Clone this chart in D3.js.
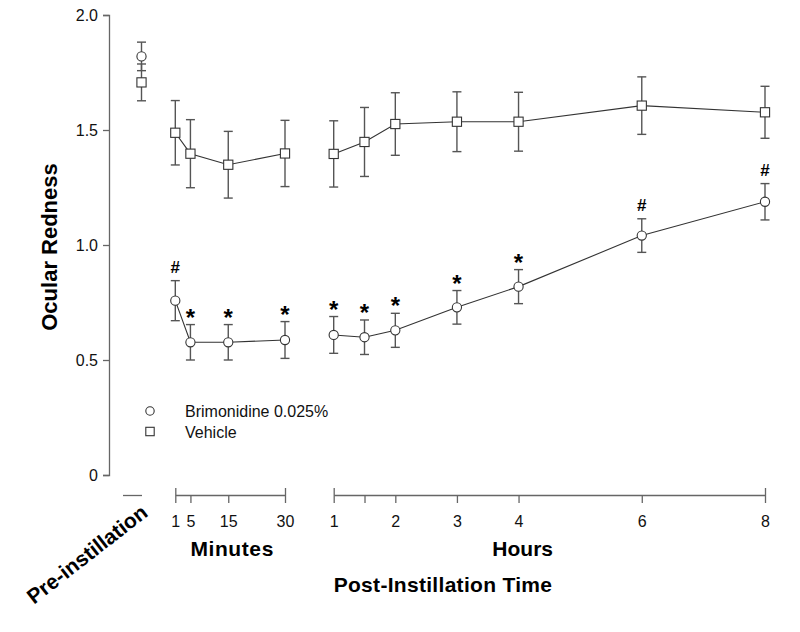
<!DOCTYPE html>
<html>
<head>
<meta charset="utf-8">
<script src="https://cdn.jsdelivr.net/npm/d3@7"></script>
<style>
  html, body { margin: 0; padding: 0; background: #fff; }
  svg { display: block; font-family: "Liberation Sans", Arial, sans-serif; }
</style>
</head>
<body>
<svg id="chart" width="800" height="632"></svg>
<script>
// ---------------- DATA ----------------
const seriesNames = ["Brimonidine 0.025%", "Vehicle"];

// Pre-instillation (baseline)
const preBrimMean = 1.82, preBrimErr = 0.062;
const preVehMean = 1.707, preVehErr = 0.08;

// Minutes post-instillation
const minuteTimes = [1, 5, 15, 30];
const minuteLabels = ["1", "5", "15", "30"];
const brimMinMean = [0.758, 0.577, 0.577, 0.587];
const brimMinErr  = [0.087, 0.077, 0.077, 0.080];
const vehMinMean  = [1.488, 1.397, 1.349, 1.398];
const vehMinErr   = [0.140, 0.148, 0.145, 0.144];
const brimMinSig  = ["#", "*", "*", "*"];

// Hours post-instillation
const hourTimes  = [1, 1.5, 2, 3, 4, 6, 8];
const hourLabels = ["1", "", "2", "3", "4", "6", "8"];
const brimHrMean = [0.609, 0.599, 0.629, 0.729, 0.819, 1.041, 1.188];
const brimHrErr  = [0.080, 0.075, 0.074, 0.073, 0.074, 0.073, 0.079];
const vehHrMean  = [1.396, 1.448, 1.526, 1.536, 1.536, 1.606, 1.577];
const vehHrErr   = [0.144, 0.150, 0.136, 0.130, 0.128, 0.125, 0.113];
const brimHrSig  = ["*", "*", "*", "*", "*", "#", "#"];

const yTicks = [0, 0.5, 1.0, 1.5, 2.0];
const yTickLabels = ["0", "0.5", "1.0", "1.5", "2.0"];

// ---------------- SCALES ----------------
const svg = d3.select("#chart");
const axisColor = "#666";
const markColor = "#333";
const errColor = "#555";

const y = d3.scaleLinear().domain([0, 2]).range([475, 15]);
const xPre = d3.scaleLinear().domain([-1, 0]).range([122.5, 141.5]);
const xMin = d3.scaleLinear().domain([1, 30]).range([175.3, 285]);
const xHr  = d3.scaleLinear().domain([1, 8]).range([333.7, 765]);
const axisY = 495;

// ---------------- AXES ----------------
const yAxis = d3.axisLeft(y)
  .tickValues(yTicks)
  .tickFormat((d, i) => yTickLabels[i])
  .tickSize(6).tickPadding(5);
const gy = svg.append("g").attr("transform", "translate(109,0)").call(yAxis);

function styleAxis(g) {
  g.selectAll("path.domain").attr("stroke", axisColor).attr("stroke-width", 1.3);
  g.selectAll(".tick line").attr("stroke", axisColor).attr("stroke-width", 1.3);
  g.selectAll(".tick text").attr("fill", "#111").style("font-size", "16px")
    .style("font-family", '"Liberation Sans", Arial, sans-serif');
}
styleAxis(gy);

// pre-instillation segment (no ticks)
const gPre = svg.append("g").attr("transform", `translate(0,${axisY})`)
  .call(d3.axisBottom(xPre).tickValues([]).tickSizeOuter(0));
styleAxis(gPre);

function timeAxis(scale, vals, labels) {
  const g = svg.append("g").attr("transform", `translate(0,${axisY})`)
    .call(d3.axisBottom(scale).tickValues(vals)
      .tickFormat((d, i) => labels[i])
      .tickSize(8).tickSizeOuter(0).tickPadding(12.5));
  styleAxis(g);
  // end caps extending upward
  g.selectAll("line.cap").data(scale.range()).enter().append("line")
    .attr("class", "cap")
    .attr("x1", d => d + 0.5).attr("x2", d => d + 0.5)
    .attr("y1", -7).attr("y2", 0)
    .attr("stroke", axisColor).attr("stroke-width", 1.3);
  return g;
}
timeAxis(xMin, minuteTimes, minuteLabels);
timeAxis(xHr, hourTimes, hourLabels);

// ---------------- AXIS TITLES ----------------
svg.append("text")
  .attr("transform", "translate(57,247) rotate(-90)")
  .attr("text-anchor", "middle")
  .style("font-weight", "bold").style("font-size", "22px")
  .text("Ocular Redness");

svg.append("text")
  .attr("x", d3.mean(xMin.range()) + 2).attr("y", 556)
  .attr("text-anchor", "middle")
  .style("font-weight", "bold").style("font-size", "21px")
  .style("letter-spacing", "0.6px")
  .text("Minutes");

svg.append("text")
  .attr("x", 522.7).attr("y", 556)
  .attr("text-anchor", "middle")
  .style("font-weight", "bold").style("font-size", "21px")
  .text("Hours");

svg.append("text")
  .attr("x", xHr.range()[0]).attr("y", 592)
  .attr("text-anchor", "start")
  .style("font-weight", "bold").style("font-size", "21px")
  .style("letter-spacing", "0.3px")
  .text("Post-Instillation Time");

svg.append("text")
  .attr("transform", "translate(149,515) rotate(-38)")
  .attr("text-anchor", "end")
  .style("font-weight", "bold").style("font-size", "21px")
  .text("Pre-instillation");

// ---------------- DATA MARKS ----------------
function buildGroup(scale, times, means, errs) {
  return times.map((t, i) => ({ x: scale(t), m: means[i], e: errs[i] }));
}
const groups = {
  brimPre: buildGroup(xPre, [0], [preBrimMean], [preBrimErr]),
  vehPre:  buildGroup(xPre, [0], [preVehMean], [preVehErr]),
  brimMin: buildGroup(xMin, minuteTimes, brimMinMean, brimMinErr),
  vehMin:  buildGroup(xMin, minuteTimes, vehMinMean, vehMinErr),
  brimHr:  buildGroup(xHr, hourTimes, brimHrMean, brimHrErr),
  vehHr:   buildGroup(xHr, hourTimes, vehHrMean, vehHrErr)
};

const line = d3.line().x(d => d.x).y(d => y(d.m));
const plot = svg.append("g");

// connecting lines
["brimMin", "vehMin", "brimHr", "vehHr"].forEach(k => {
  plot.append("path").datum(groups[k]).attr("d", line)
    .attr("fill", "none").attr("stroke", markColor).attr("stroke-width", 1.1);
});

// error bars
const cap = 4.5;
Object.values(groups).forEach(arr => {
  const g = plot.append("g").attr("stroke", errColor).attr("stroke-width", 1.4);
  arr.forEach(d => {
    g.append("line").attr("x1", d.x).attr("x2", d.x).attr("y1", y(d.m + d.e)).attr("y2", y(d.m - d.e));
    g.append("line").attr("x1", d.x - cap).attr("x2", d.x + cap).attr("y1", y(d.m + d.e)).attr("y2", y(d.m + d.e));
    g.append("line").attr("x1", d.x - cap).attr("x2", d.x + cap).attr("y1", y(d.m - d.e)).attr("y2", y(d.m - d.e));
  });
});

// markers
["vehPre", "vehMin", "vehHr"].forEach(k => {
  plot.selectAll(null).data(groups[k]).enter().append("rect")
    .attr("x", d => d.x - 4.6).attr("y", d => y(d.m) - 4.6)
    .attr("width", 9.2).attr("height", 9.2)
    .attr("fill", "#fff").attr("stroke", markColor).attr("stroke-width", 1.1);
});
["brimPre", "brimMin", "brimHr"].forEach(k => {
  plot.selectAll(null).data(groups[k]).enter().append("circle")
    .attr("cx", d => d.x).attr("cy", d => y(d.m)).attr("r", 4.6)
    .attr("fill", "#fff").attr("stroke", markColor).attr("stroke-width", 1.1);
});

// significance markers
function sigMarks(arr, sig) {
  arr.forEach((d, i) => {
    const top = y(d.m + d.e);
    const s = sig[i];
    if (s === "*") {
      plot.append("text").attr("x", d.x).attr("y", top + 1)
        .attr("text-anchor", "middle")
        .style("font-weight", "bold").style("font-size", "24px")
        .text("*");
    } else {
      plot.append("text").attr("x", d.x).attr("y", top - 8)
        .attr("text-anchor", "middle")
        .style("font-weight", "bold").style("font-size", "17px")
        .text("#");
    }
  });
}
sigMarks(groups.brimMin, brimMinSig);
sigMarks(groups.brimHr, brimHrSig);

// ---------------- LEGEND ----------------
const legend = svg.append("g").attr("transform", "translate(150,411)");
legend.append("circle").attr("cx", 0).attr("cy", 0).attr("r", 4.2)
  .attr("fill", "#fff").attr("stroke", markColor).attr("stroke-width", 1.1);
legend.append("rect").attr("x", -4.2).attr("y", 20.5 - 4.2).attr("width", 8.4).attr("height", 8.4)
  .attr("fill", "#fff").attr("stroke", markColor).attr("stroke-width", 1.1);
legend.selectAll("text.lg").data(seriesNames).enter().append("text")
  .attr("class", "lg")
  .attr("x", 35).attr("y", (d, i) => 5.7 + i * 20.8)
  .style("font-size", "16px").attr("fill", "#111")
  .text(d => d);
</script>
</body>
</html>
